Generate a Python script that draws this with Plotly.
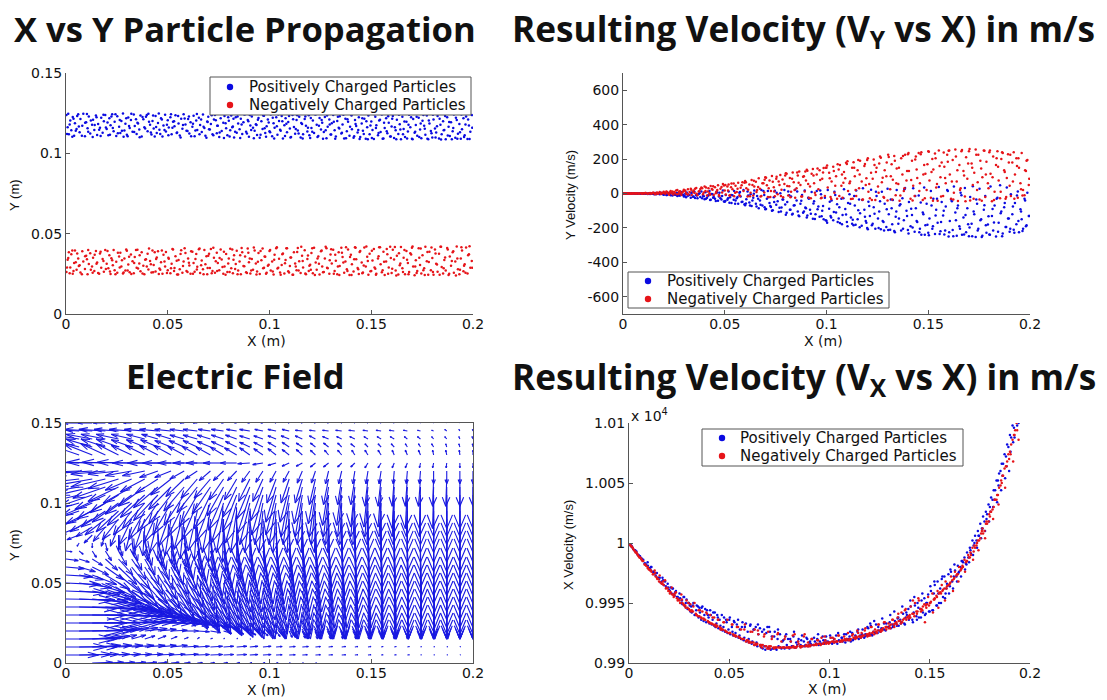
import plotly.graph_objects as go

W, H = 1107, 700
LABEL_POS = "Positively Charged Particles"
LABEL_NEG = "Negatively Charged Particles"
BLUE = "rgb(10,10,225)"
RED = "rgb(230,20,25)"
AXIS = "#555555"
FONT = "DejaVu Sans"
INK = "#111111"

# particle x positions, 0.1 mm
particle_x = [
2,8,14,21,26,33,40,44,52,60, 67,71,80,85,93,99,106,112,119,128,
133,139,147,153,158,167,173,180,186,193, 200,208,213,219,227,234,239,247,252,261,
267,272,280,287,292,299,306,313,319,327, 333,338,347,351,360,366,372,380,385,393,
401,405,413,420,425,431,440,446,452,459, 467,474,479,487,491,500,505,513,519,526,
533,538,546,553,559,566,572,578,587,592, 600,606,612,621,627,632,640,645,653,659,
667,673,680,685,694,699,707,712,720,727, 732,741,746,753,760,765,773,779,787,793,
800,807,812,820,826,834,839,846,853,859, 866,872,880,885,893,899,906,913,919,927,
933,939,946,952,960,966,973,979,986,992, 1000,1006,1013,1020,1025,1033,1039,1047,1052,1060,
1066,1073,1079,1086,1092,1100,1106,1113,1120,1126, 1133,1139,1146,1153,1160,1165,1173,1179,1186,1193,
1200,1206,1213,1219,1227,1232,1240,1246,1253,1259, 1267,1272,1280,1286,1294,1300,1306,1313,1320,1326,
1333,1340,1345,1353,1359,1367,1373,1380,1386,1393, 1400,1405,1413,1420,1426,1433,1439,1446,1453,1459,
1466,1473,1480,1486,1492,1500,1506,1513,1520,1525, 1533,1539,1546,1552,1560,1566,1573,1579,1586,1593,
1600,1606,1612,1620,1626,1633,1640,1646,1653,1659, 1666,1673,1680,1686,1692,1700,1706,1713,1719,1726,
1733,1740,1746,1752,1760,1766,1773,1780,1786,1793, 1800,1806,1813,1819,1826,1833,1840,1846,1853,1859,
1866,1873,1880,1886,1892,1900,1906,1913,1920,1926, 1933,1940,1946,1953,1959,1966,1973,1980,1987,1994,
5,11,18,31,37,48,55,63,78,94, 103,109,122,131,141,150,163,170,184,196,
204,216,223,230,243,255,264,275,283,296, 303,310,321,335,344,354,362,376,389,397,
408,417,428,436,443,456,463,471,484,496, 503,516,523,531,544,551,563,575,583,597,
604,615,624,636,643,656,664,676,690,696, 703,716,724,736,743,755,769,776,784,797,
804,817,823,831,843,856,863,876,889,896, 903,910,923,936,943,956,969,976,983,996,
1003,1016,1023,1036,1043,1055,1063,1076,1083,1096, 1103,1116,1129,1136,1143,1156,1163,1176,1189,1196,
1203,1210,1223,1236,1243,1256,1263,1276,1283,1296, 1303,1316,1323,1336,1343,1356,1363,1376,1383,1396,
1403,1416,1423,1436,1443,1456,1463,1476,1483,1496, 1503,1516,1523,1536,1543,1556,1563,1576,1583,1596,
1603,1616,1623,1636,1643,1656,1663,1676,1683,1696, 1703,1716,1723,1736,1743,1756,1763,1776,1783,1796,
1803,1816,1823,1836,1843,1856,1863,1876,1883,1896, 1903,1916,1923,1936,1943,1956,1963,1976,1983,1996,
]

# Y position, 0.1 mm
pos_y = [
1238,1162,1118,1205,1143,1226,1109,1187,1152,1243, 1131,1214,1172,1247,1106,1193,1156,1229,1124,1178,
1209,1146,1236,1114,1183,1160,1221,1128,1199,1239, 1151,1112,1218,1175,1243,1137,1196,1108,1231,1165,
1126,1202,1248,1142,1184,1115,1223,1158,1207,1134, 1241,1170,1121,1191,1149,1235,1105,1212,1163,1228,
1138,1246,1178,1117,1201,1155,1232,1127,1189,1147, 1219,1104,1173,1240,1136,1206,1161,1225,1119,1197,
1168,1237,1130,1186,1111,1216,1153,1244,1180,1141, 1213,1123,1194,1166,1234,1107,1204,1145,1222,1176,
1133,1241,1158,1110,1198,1227,1149,1182,1118,1210, 1238,1125,1171,1101,1219,1139,1190,1232,1156,1113,
1203,1144,1236,1167,1098,1225,1128,1185,1150,1216, 1120,1193,1243,1135,1208,1103,1174,1229,1159,1141,
1181,1114,1220,1097,1199,1152,1234,1126,1169,1211, 1138,1241,1106,1187,1160,1224,1116,1202,1147,1233,
1093,1175,1218,1131,1195,1155,1102,1239,1164,1122, 1207,1142,1228,1099,1183,1119,1213,1172,1136,1237,
1096,1157,1205,1126,1242,1178,1108,1220,1148,1191, 1133,1226,1094,1166,1210,1117,1188,1239,1143,1104,
1201,1159,1231,1123,1179,1092,1215,1137,1196,1110, 1244,1150,1097,1208,1170,1129,1224,1101,1185,1140,
1216,1091,1162,1235,1118,1198,1146,1089,1227,1175, 1112,1204,1133,1241,1093,1157,1219,1125,1190,1105,
1167,1233,1096,1144,1209,1120,1181,1088,1228,1152, 1102,1196,1136,1240,1163,1090,1214,1128,1177,1110,
1222,1148,1094,1203,1171,1115,1236,1087,1186,1139, 1099,1211,1155,1129,1232,1092,1178,1118,1199,1145,
1088,1225,1165,1108,1193,1137,1241,1097,1207,1122, 1183,1091,1150,1218,1112,1229,1089,1174,1135,1238,
1121,1247,1179,1103,1216,1140,1233,1167,1110,1190, 1245,1135,1205,1102,1177,1224,1147,1108,1240,1161,
1192,1116,1230,1158,1244,1125,1208,1141,1103,1218, 1106,1170,1246,1133,1212,1186,1100,1226,1154,1238,
1197,1129,1236,1105,1164,1248,1121,1210,1145,1178, 1112,1243,1159,1200,1127,1233,1098,1176,1217,1139,
1229,1107,1184,1142,1245,1118,1211,1165,1097,1195, 1150,1237,1113,1206,1172,1129,1246,1096,1188,1224,
1104,1163,1215,1135,1230,1095,1180,1242,1124,1200, 1239,1146,1094,1177,1209,1116,1236,1156,1103,1192,
1131,1221,1093,1168,1241,1141,1200,1108,1184,1233, 1099,1212,1151,1237,1124,1189,1092,1229,1160,1113,
1220,1134,1244,1101,1172,1208,1091,1143,1235,1180, 1117,1197,1090,1227,1155,1128,1240,1094,1212,1166,
1236,1107,1183,1145,1089,1219,1121,1200,1088,1173, 1096,1243,1158,1126,1209,1090,1190,1138,1231,1104,
1216,1163,1087,1240,1149,1119,1198,1092,1178,1225, 1088,1134,1228,1102,1185,1238,1153,1091,1204,1125,
1240,1098,1169,1215,1086,1144,1233,1111,1195,1087, 1157,1222,1090,1131,1242,1101,1180,1211,1089,1160,
]
neg_y = [
262,338,385,290,372,251,318,396,275,345, 303,258,390,327,280,362,247,311,378,296,
350,268,392,320,255,376,288,342,263,399, 312,285,365,249,335,398,272,325,256,358,
381,295,252,346,270,393,308,260,370,328, 253,354,288,400,315,266,384,300,248,340,
375,277,330,258,395,305,265,352,390,283, 322,250,368,296,386,272,344,254,312,401,
287,360,246,336,278,397,256,326,380,268, 345,302,251,388,318,263,374,294,403,255,
333,278,398,309,248,362,286,405,267,350, 256,381,317,272,402,339,250,295,374,262,
346,406,284,254,365,311,393,270,327,247, 385,298,358,260,407,322,252,342,276,396,
315,264,379,249,335,408,288,356,256,301, 392,271,327,246,369,410,283,344,258,305,
376,252,336,409,266,298,352,245,384,315, 273,411,328,255,362,290,397,248,342,268,
306,380,253,412,321,275,358,246,390,296, 262,345,409,284,250,371,314,400,268,332,
247,385,298,413,355,256,326,278,402,243, 368,309,264,416,340,287,249,392,320,258,
414,296,356,244,375,268,333,405,282,251, 346,415,310,260,388,243,327,372,290,418,
255,400,339,270,362,246,304,417,284,350, 248,392,318,261,378,413,295,241,335,268,
410,305,252,366,284,418,328,245,388,272, 348,244,401,312,263,375,419,292,252,336,
270,411,243,358,300,385,256,326,420,278, 248,345,395,266,310,414,252,372,288,330,
289,348,253,395,267,322,377,299,248,360, 341,398,275,256,369,312,251,388,330,280,
392,264,347,303,248,381,290,335,258,402, 271,356,249,318,399,283,365,252,338,296,
408,309,260,384,342,249,275,396,326,255, 350,284,405,267,332,246,374,298,410,262,
319,391,251,343,277,407,304,248,360,286, 375,253,412,328,268,349,293,388,244,314,
262,401,337,280,248,366,411,297,255,382, 345,270,414,246,325,392,284,358,250,306,
398,265,338,415,288,245,372,316,409,258, 352,244,295,386,270,418,330,252,364,300,
276,410,242,345,312,395,260,419,288,335, 403,250,368,296,243,382,320,416,268,355,
243,340,412,278,386,254,302,420,330,266, 394,290,245,360,416,272,325,405,250,348,
282,417,240,378,314,262,398,338,247,370, 420,296,255,350,408,272,242,386,324,414,
262,376,308,244,418,285,352,402,250,330, 391,240,345,276,415,300,256,366,422,288,
]

# Y velocity, m/s
pos_vy = [
0,0,1,0,0,-1,0,1,0,-1, 1,-1,0,-2,1,-1,2,-2,0,1,
-3,2,-1,-4,3,-2,1,-5,4,-3, -7,2,-9,4,-3,-10,5,-6,-1,-8,
-15,3,-11,8,-6,-18,-2,6,-13,-9, -24,5,-17,10,-8,-27,-3,-20,12,-13,
-33,7,-25,-11,15,-36,-4,-20,-30,9, -42,4,-28,-15,18,-48,-8,-37,12,-22,
-55,-10,15,-40,-28,-60,5,-18,-48,20, -68,-33,12,-52,-5,-72,-25,18,-60,-14,
-86,-40,20,-70,-8,-92,-30,14,-55,-78, -100,-22,16,-66,-45,-108,2,-82,-35,20,
-124,-50,12,-95,-18,-118,-70,22,-40,-105, -132,-60,-8,-112,18,-85,-128,-30,-95,8,
-146,-45,-120,15,-75,-135,-5,-100,-150,-25, -158,20,-88,-130,-40,-155,10,-110,-62,-145,
-172,-30,-125,25,-90,-165,-55,-5,-140,-175, -185,-70,18,-150,-35,-115,-188,30,-95,-160,
-200,-48,-130,22,-175,-80,-205,-15,-145,-105, -208,10,-165,-60,-195,28,-120,-210,-85,-38,
-218,-135,20,-175,-70,-215,-28,-155,32,-100, -212,-50,-190,-125,30,-222,-85,-165,-12,-205,
-240,-110,35,-185,-60,-228,-145,15,-205,-30, -235,-95,-170,38,-220,-50,-128,-238,-75,20,
-250,-160,-35,-212,40,-110,-245,-70,-190,5, -240,-140,32,-225,-85,-248,-20,-175,42,-120,
-252,-60,-205,28,-150,-245,-95,-15,-228,-180, -238,40,-130,-215,-70,-250,-25,-170,48,-105,
-232,-80,-195,35,-145,-222,-5,-120,-210,-55, -178,12,-225,-92,-150,-205,-30,-190,5,-130,
0,-1,0,1,-1,0,1,-1,0,-2, -1,2,-3,0,-2,1,-4,-1,2,-3,
-5,-9,1,-3,-11,-7,3,-12,-2,-8, -14,-22,-6,4,-19,-26,-11,2,-28,-16,
-31,-12,-38,-3,-25,-43,6,-18,-35,-46, -44,-28,-54,-8,-37,-60,-20,8,-50,-63,
-58,-12,-70,-41,-2,-76,-30,-65,14,-80, -90,-22,-72,-98,-50,5,-83,-105,-35,-64,
-112,-10,-95,-122,-68,12,-128,-42,-105,-82, -140,-25,-118,-58,-148,-92,18,-132,-72,-155,
-170,-48,-140,-108,-8,-165,-80,-178,-28,-122, -190,-60,-152,-15,-182,-98,-196,-38,-135,-170,
-208,-72,-185,-118,10,-200,-45,-160,-215,-92, -212,-35,-178,-225,-105,-145,-62,-205,25,-130,
-232,-88,-198,-15,-160,-225,-52,-120,-240,-182, -242,-70,-190,-128,-30,-235,-165,-100,-215,15,
-225,-45,-248,-155,-85,-205,-10,-238,-125,-178, -198,-248,-105,-35,-215,-155,-252,-68,-185,-132,
-240,-90,-168,-30,-222,-115,-248,-55,-195,-145, -205,-75,-228,-12,-160,-105,-218,-40,-185,-130,
]
neg_vy = [
0,0,-1,0,1,0,0,-1,1,0, -1,2,0,1,-2,2,0,3,-1,1,
3,-2,5,1,-4,6,0,8,-3,5, 10,-2,12,4,-7,14,2,-6,9,17,
20,-3,13,-9,6,22,16,-5,25,8, 28,-8,18,3,32,-10,12,26,35,-4,
40,14,-12,30,2,44,22,-8,36,10, 48,-14,28,6,55,18,-6,40,52,-10,
58,24,-16,45,8,62,-10,34,66,14, 72,30,-18,52,4,78,-12,40,68,20,
88,28,-14,60,6,94,48,-20,75,15, 102,36,-16,85,-5,70,108,22,-22,55,
118,44,-12,90,10,122,65,-25,30,105, 128,50,-18,98,12,75,132,-24,40,115,
142,60,-8,110,25,135,-28,85,148,-15, 150,35,120,-20,70,155,5,100,-30,140,
165,45,-25,125,88,172,15,60,-32,150, 182,100,-15,135,30,190,70,-35,160,50,
195,10,-28,120,85,198,-38,150,40,175, 208,65,-20,135,100,-40,212,25,170,80,
218,-10,145,55,-42,205,110,15,225,75, 228,130,-30,190,45,-15,215,90,235,60,
240,-38,165,115,20,245,75,-25,200,140, 232,35,-42,250,95,180,-15,155,60,225,
248,110,-30,195,5,255,70,-44,165,30, 252,130,-18,210,85,245,-40,175,50,120,
255,20,225,-35,145,95,250,-20,185,60, 240,115,-45,215,10,165,246,75,-28,200,
235,135,-30,90,228,45,-15,180,240,110, 205,-25,150,60,235,20,-10,130,195,50,
0,1,0,-1,0,1,0,1,-1,1, 1,3,-1,2,0,4,1,-2,3,1,
5,9,-2,7,12,3,-4,10,1,13, 17,3,-6,22,10,27,-2,15,30,6,
35,12,-7,26,42,1,20,-9,38,46, 50,18,-12,36,58,5,28,-14,48,62,
66,22,-16,50,74,8,38,-18,60,80, 92,30,-20,68,12,98,50,-15,82,104,
115,42,-22,85,20,122,62,-18,100,128, 138,55,-28,105,5,145,78,-24,122,150,
162,88,-32,130,45,170,-15,110,62,178, 188,70,-30,150,20,195,110,-36,172,88,
205,55,-38,165,125,5,215,92,-25,180, 225,100,-35,190,60,150,-12,218,30,130,
235,78,-40,198,140,15,228,110,-28,170, 242,125,-42,205,55,160,-18,238,90,185,
250,70,-35,215,135,20,245,105,-45,175, 258,150,-30,225,65,190,-42,248,110,30,
250,95,-38,205,155,10,240,125,-20,180, 225,70,-30,160,205,25,-12,135,190,85,
]

# X velocity, m/s
pos_vx = [
9999,9998,9997,9995,9994,9993,9991,9990,9989,9987, 9986,9986,9983,9982,9984,9979,9978,9980,9976,9975,
9973,9975,9971,9971,9967,9971,9965,9968,9963,9966, 9961,9963,9958,9962,9956,9960,9955,9953,9958,9950,
9949,9955,9947,9953,9945,9950,9943,9942,9948,9940, 9940,9948,9938,9946,9936,9947,9935,9945,9934,9940,
9933,9944,9932,9942,9931,9930,9940,9929,9936,9928, 9927,9938,9926,9934,9925,9936,9924,9930,9923,9934,
9922,9932,9921,9928,9920,9934,9919,9930,9918,9926, 9917,9932,9916,9928,9915,9930,9914,9924,9929,9913,
9912,9928,9911,9925,9913,9930,9911,9922,9912,9926, 9912,9920,9914,9924,9912,9918,9913,9922,9915,9920,
9912,9918,9914,9922,9913,9917,9915,9920,9914,9919, 9914,9918,9915,9921,9914,9917,9916,9920,9915,9918,
9916,9920,9915,9918,9916,9922,9916,9919,9917,9918, 9917,9921,9916,9918,9917,9923,9916,9919,9918,9921,
9918,9924,9917,9920,9919,9922,9918,9925,9920,9921, 9921,9926,9920,9923,9922,9928,9921,9924,9923,9929,
9924,9931,9923,9926,9925,9932,9925,9927,9926,9929, 9928,9933,9927,9930,9930,9934,9929,9932,9931,9935,
9933,9937,9931,9936,9934,9941,9933,9938,9940,9945, 9938,9947,9936,9942,9948,9939,9950,9938,9945,9952,
9942,9954,9941,9950,9957,9943,9960,9944,9958,9965, 9948,9968,9950,9962,9970,9955,9972,9958,9966,9974,
9964,9976,9968,9972,9977,9972,9981,9976,9980,9985, 9984,9988,9983,9992,9988,9996,9991,10002,9998,10006,
10002,10010,10006,10016,10012,10022,10018,10026,10024,10032, 10030,10038,10036,10044,10044,10052,10052,10058,10060,10066,
10066,10074,10072,10082,10080,10090,10088,10098,10096,10106, 10106,10112,10114,10120,10122,10128,10132,10138,10140,10146,
9999,9998,9996,9994,9993,9990,9989,9987,9983,9981, 9979,9980,9976,9975,9971,9970,9968,9969,9964,9963,
9960,9962,9957,9959,9955,9954,9952,9955,9950,9950, 9948,9947,9950,9944,9947,9942,9946,9940,9944,9938,
9940,9936,9942,9933,9938,9931,9940,9930,9936,9928, 9938,9926,9935,9925,9936,9923,9930,9921,9933,9920,
9931,9918,9928,9917,9932,9915,9926,9914,9930,9912, 9926,9912,9922,9911,9928,9913,9919,9912,9924,9913,
9920,9914,9926,9913,9918,9915,9923,9914,9920,9915, 9918,9915,9921,9916,9924,9916,9919,9917,9922,9917,
9923,9917,9920,9918,9925,9918,9921,9919,9924,9920, 9926,9919,9923,9921,9928,9921,9924,9922,9930,9923,
9933,9924,9935,9925,9930,9927,9937,9928,9933,9930, 9940,9930,9943,9931,9938,9933,9947,9932,9942,9936,
9952,9934,9955,9936,9946,9938,9958,9940,9950,9943, 9964,9944,9968,9948,9958,9950,9972,9954,9962,9958,
9978,9962,9982,9968,9975,9972,9985,9978,9982,9984, 9994,9990,10000,9996,10006,10004,10012,10010,10020,10018,
10026,10030,10036,10034,10048,10044,10056,10054,10064,10060, 10076,10084,10088,10098,10100,10112,10114,10126,10128,10140,
]
neg_vx = [
9999,9998,9997,9995,9994,9992,9991,9990,9988,9987, 9985,9985,9982,9981,9980,9978,9977,9976,9974,9977,
9972,9971,9970,9973,9967,9966,9965,9969,9963,9962, 9960,9959,9963,9957,9956,9959,9954,9953,9952,9957,
9950,9949,9948,9952,9946,9945,9949,9944,9943,9950, 9941,9940,9944,9939,9938,9943,9937,9936,9942,9935,
9934,9940,9933,9932,9938,9932,9931,9936,9930,9929, 9928,9934,9927,9926,9936,9925,9925,9932,9924,9923,
9922,9930,9922,9921,9928,9920,9920,9932,9919,9919, 9918,9926,9917,9917,9928,9916,9916,9924,9915,9915,
9915,9922,9914,9914,9926,9914,9914,9920,9913,9913, 9913,9924,9913,9913,9918,9913,9913,9922,9913,9913,
9913,9918,9913,9914,9924,9913,9914,9916,9914,9914, 9914,9922,9914,9915,9917,9915,9915,9920,9915,9915,
9916,9919,9916,9916,9921,9916,9917,9919,9917,9917, 9917,9921,9918,9918,9920,9918,9918,9923,9918,9919,
9919,9922,9919,9920,9925,9920,9920,9923,9921,9921, 9922,9927,9922,9922,9925,9923,9923,9929,9924,9924,
9925,9930,9925,9926,9928,9926,9927,9932,9927,9928, 9929,9934,9930,9930,9933,9931,9932,9936,9932,9933,
9934,9938,9935,9935,9942,9936,9937,9945,9938,9939, 9940,9947,9941,9941,9950,9943,9943,9952,9945,9945,
9947,9949,9948,9949,9955,9950,9951,9958,9953,9954, 9956,9960,9958,9959,9965,9961,9962,9968,9964,9965,
9966,9972,9969,9970,9976,9973,9974,9980,9977,9979, 9980,9986,9984,9985,9990,9988,9990,9996,9993,9996,
9998,10002,10002,10004,10010,10008,10010,10016,10016,10018, 10022,10026,10028,10030,10036,10036,10040,10046,10048,10050,
10056,10062,10064,10068,10074,10076,10082,10086,10090,10094, 10100,10104,10108,10112,10116,10122,10126,10130,10136,10140,
9999,9997,9996,9993,9992,9989,9988,9986,9982,9979, 9978,9977,9974,9975,9970,9968,9966,9968,9962,9960,
9958,9957,9955,9958,9952,9950,9953,9948,9946,9950, 9944,9943,9947,9940,9939,9944,9937,9936,9941,9934,
9933,9938,9931,9930,9936,9928,9928,9934,9926,9925, 9925,9932,9923,9923,9930,9921,9920,9928,9918,9917,
9917,9926,9915,9915,9927,9914,9913,9924,9912,9912, 9912,9922,9912,9913,9925,9913,9913,9920,9913,9913,
9913,9923,9913,9913,9918,9913,9914,9924,9914,9914, 9914,9920,9915,9915,9919,9915,9916,9922,9916,9916,
9917,9921,9917,9918,9923,9918,9918,9920,9919,9919, 9919,9924,9920,9921,9925,9921,9922,9927,9922,9923,
9923,9930,9924,9925,9932,9926,9927,9934,9928,9929, 9929,9936,9930,9932,9941,9933,9934,9944,9936,9937,
9938,9952,9939,9941,9954,9943,9944,9934,9946,9948, 9950,9942,9953,9955,9946,9958,9960,9952,9962,9965,
9967,9960,9971,9974,9968,9978,9981,9976,9985,9988, 9992,9986,9998,10000,9994,10008,10012,10004,10018,10024,
10026,10020,10036,10040,10032,10052,10056,10046,10064,10070, 10074,10068,10090,10094,10086,10108,10112,10104,10126,10132,
]

# electric field: grid and arrow components (mm of plotted length), rows from y = 0.15 down to 0
field_x = [i / 31 * 0.2 for i in range(32)]
field_y = [0.15 - i * 0.005 for i in range(31)]
field_u = [
[-9,-8,-7,-6,-5,-4,-3,-3,-2,-2,-2,-1,-1,-1,-1,-1,-.5,-.5,-.5,-.5,-.5,-.3,-.3,-.3,-.3,-.3,-.2,-.2,-.2,-.1,-.1,0],
[-16,-15,-14,-13,-12,-11,-10,-9,-8,-7,-7,-6,-6,-5,-5,-4,-4,-3.5,-3.5,-3,-3,-3,-3,-2.5,-2.5,-2.5,-2,-1.5,-1,-1,-.5,-.3],
[-16,-15,-13,-12,-11,-10,-9,-8,-7.5,-7,-7,-6.5,-6,-5.5,-5,-4.5,-4,-4,-3.5,-3,-3,-2.5,-2.5,-2,-2,-2,-1.5,-1.5,-1,-1,-.5,-.5],
[-17,-15,-13,-12,-11,-10,-9,-8.5,-8,-7.5,-7,-6.5,-6,-5.5,-5,-4.5,-4,-3.5,-3,-2.5,-2.5,-2,-2,-1.5,-1.5,-1.5,-1,-1,-1,-.5,-.5,-.3],
[-18,-16,-14,-12,-11,-10,-9.5,-9,-8.5,-8,-7.5,-7,-6.5,-6,-5,-4.5,-4,-3.5,-3,-2.5,-2,-2,-1.5,-1.5,-1.5,-1,-1,-1,-.5,-.5,-.3,0],
[-24,-22,-20,-19,-18,-17,-16,-15,-14,-13,-12,-12,-10,-8,-6,-5,-4,-3.5,-3,-2.5,-2.5,-2,-2,-1.5,-1.5,-1,-1,-.5,-.5,-.3,0,0],
[-22,-20,-19,-17,-15,-13,-11,-9,-8,-7,-6,-5.5,-5,-4.5,-4,-3.5,-3,-3,-2.5,-2,-1.5,-1.5,-1,-1,-1,-.5,-.5,-.5,0,0,0,0],
[-20,-20,-18,-17,-15,-13,-12,-11,-10,-9,-8,-8,-7,-6,-5.5,-5,-4.5,-4,-3.5,-3,-2.5,-2,-2,-1.5,-1.5,-1,-1,-1,-.5,-.5,0,0],
[-18,-18,-17,-16,-15,-14,-13,-12,-11,-10,-10,-9,-8,-7,-6.5,-6,-5,-4.5,-4,-3.5,-3,-2.5,-2,-2,-1.5,-1,-1,-.5,-.5,0,0,0],
[-18,-17,-16,-15,-14,-13,-12,-12,-11,-10,-9,-8,-7.5,-7,-6,-5.5,-5,-4,-3.5,-3,-2.5,-2,-2,-1.5,-1,-1,-.5,-.5,0,0,0,0],
[-17,-16,-15,-14,-13,-12,-11,-10,-9,-8,-7.5,-7,-6,-5.5,-5,-4,-3.5,-3,-2.5,-2,-1.5,-1,-1,-.5,-.5,-.5,0,0,0,0,0,0],
[-15,-14,-13,-12,-11,-9,-8,-7,-6,-5,-4.5,-4,-3.5,-3,-2.5,-2,-1.5,-1,-.5,-.5,-.5,0,0,0,0,0,0,0,0,0,0,0],
[-14,-12,-11,-10,-8,-6,-5,-4,-3,-2,-1.5,-1,-.5,0,0,.5,.5,.5,.5,.5,.5,.5,.5,.5,0,0,0,0,0,0,0,0],
[-12,-10,-8,-6,-4,-3,-1,0,.5,1,1,1,1,1,1,1,1,.5,.5,.5,.5,.5,.5,.5,0,0,0,0,0,0,0,0],
[-8,-6,-4,-2,0,1,1.5,2,2,2.5,2.5,2.5,2.5,2,2,2,1.5,1.5,1.5,1,1,.5,.5,.5,.5,.5,0,0,0,0,0,0],
[-2,-1,0,1,2,3,3.5,4,4,4.5,4.5,4.5,4,4,3.5,3,2.5,2.5,2,2,1.5,1,1,1,.5,.5,.5,0,0,0,0,0],
[3,2,2,3,4,5,5,5.5,6,6,6,6,5.5,5,4.5,4,3.5,3,2.5,2,1.5,1.5,1,1,.5,.5,.5,.5,0,0,0,0],
[6,5,5,6,7,7,7,7.5,8,8,7.5,7,6.5,6,5.5,5,4,3.5,3,2.5,2,1.5,1.5,1,1,.5,.5,.5,0,0,0,0],
[9,8,8,9,9,9,9,9,9,9,8.5,8,7.5,7,6,5.5,4.5,4,3.5,3,2.5,2,1.5,1,1,1,.5,.5,.5,0,0,0],
[13,12,12,12,12,11,11,10.5,10,10,9.5,9,8,7.5,6.5,6,5,4.5,4,3,2.5,2,1.5,1.5,1,1,.5,.5,.5,0,0,0],
[17,16,16,15,14,13,13,12,11.5,11,10,9.5,8.5,8,7,6,5.5,5,4,3.5,3,2.5,2,1.5,1,1,.5,.5,.5,0,0,0],
[20,20,19,18,17,15,14,13,12,11.5,11,10,9,8,7,6.5,5.5,5,4,3.5,3,2.5,2,1.5,1,1,.5,.5,.5,0,0,0],
[24,24,23,21,19,17,15,14,13,12,11,10,9,8,7,6,5,4.5,4,3,2.5,2,2,1.5,1,1,.5,.5,.5,0,0,0],
[28,28,27,25,22,20,17,15,13,12,10,9,8,7,6,5,4.5,4,3,2.5,2,2,1.5,1,1,.5,.5,.5,0,0,0,0],
[30,30,30,28,26,24,21,18,15,13,11,9,7.5,6,5,4.5,4,3,2.5,2,1.5,1.5,1,1,.5,.5,.5,0,0,0,0,0],
[30,30,28,26,24,22,20,17,15,13,11,9,7.5,6,5,4.5,4,3.5,3,2.5,2,1.5,1.5,1,1,1,.5,.5,.5,.5,0,0],
[28,26,22,18,15,13,11,9,8,7,6,5,4,3.5,3,2.5,2,1.5,1.5,1,1,.5,.5,.5,.5,0,0,0,0,0,0,0],
[24,20,15,12,9,7,5,4,3,2,1,1,.5,.5,.5,0,0,0,0,0,0,0,0,0,0,0,0,0,0,0,0,0],
[20,20,14,13,12,11,10,9,8,7,6,6,5,5,4,4,3,3,3,2.5,2,2,1.5,1.5,1,1,1,.5,.5,.5,.3,0],
[16,16,13,12,11,10,9,8,7,7,6,6,5,5,4,4,3,3,2.5,2.5,2,2,1.5,1.5,1,1,1,.5,.5,.5,.3,0],
[0,0,10,9,8,7,6,5,4,3,2.5,2,2,1.5,1,1,1,.5,.5,.5,0,0,0,0,0,0,0,0,0,0,0,0],
]
field_v = [
[0,0,0,0,0,0,0,0,0,0,0,0,0,0,0,0,0,0,0,0,0,0,0,0,0,0,0,0,0,0,0,0],
[1,1,1,1,1,1,1,1,1,1,1,1,1,1,1,1,1,1,.5,.5,.5,.5,.5,.5,.5,.5,.5,.5,.5,1,1,1],
[3,3,3,3,3,3,3,3,3,2.5,2.5,2.5,2.5,2.5,2,2,2,2,2,2,1.5,1.5,1.5,1.5,1.5,1.5,1.5,1.5,1.5,1.5,1.5,1.5],
[5,5,5,5,5,4.5,4.5,4.5,4,4,4,3.5,3.5,3.5,3,3,3,3,2.5,2.5,2.5,2.5,2,2,2,2,2,2,2,2,2,2],
[7,7,7,7,7,6,6,6,6,5.5,5.5,5,5,4.5,4.5,4,4,3.5,3.5,3,3,3,3,3,3,3,3,3,3,3,3,3],
[1,.5,.5,.5,.5,.5,0,0,0,0,0,0,0,0,-.5,-1,-1.5,-2,-2,-2.5,-2.5,-2.5,-2.5,-3,-3,-3,-3,-3,-3,-3,-3,-3],
[-.5,-1,-1.5,-2,-2,-3,-3,-4,-4,-5,-5,-6,-6,-6,-7,-7,-7,-7,-7.5,-7.5,-8,-8,-8,-8,-8,-8,-8,-8,-8,-8,-8,-8],
[-2,-3,-4,-5,-6,-7,-8,-9,-10,-11,-12,-12,-13,-13,-14,-14,-15,-15,-15,-16,-16,-16,-16,-17,-17,-17,-17,-17,-17,-17,-17,-17],
[-3,-4,-5,-7,-9,-10,-12,-13,-14,-15,-16,-17,-18,-19,-20,-21,-22,-22,-23,-23,-24,-24,-25,-25,-25,-26,-26,-26,-26,-26,-26,-26],
[-4,-5,-7,-9,-11,-12,-14,-16,-18,-19,-20,-21,-22,-23,-24,-25,-25,-26,-26,-26,-26,-26,-26,-26,-26,-26,-26,-26,-26,-26,-26,-26],
[-5,-6,-8,-10,-12,-14,-16,-18,-20,-21,-23,-24,-25,-25,-26,-26,-26,-26,-26,-26,-26,-26,-26,-26,-26,-26,-26,-26,-26,-26,-26,-26],
[-5,-6,-8,-10,-13,-15,-18,-20,-22,-24,-25,-26,-26,-26,-26,-26,-26,-26,-26,-26,-26,-26,-26,-26,-26,-26,-26,-26,-26,-26,-26,-26],
[-5,-6,-8,-10,-13,-16,-19,-21,-23,-25,-26,-27,-27,-27,-27,-27,-27,-27,-27,-27,-27,-27,-27,-27,-27,-27,-27,-27,-27,-27,-27,-27],
[-4,-5,-6,-9,-12,-15,-18,-21,-23,-25,-27,-28,-28,-28,-28,-28,-28,-28,-28,-28,-28,-28,-28,-28,-28,-28,-28,-28,-28,-28,-28,-28],
[-2,-3,-5,-7,-10,-13,-16,-19,-22,-24,-26,-27,-28,-28,-28,-28,-28,-28,-28,-28,-28,-28,-28,-28,-28,-28,-28,-28,-28,-28,-28,-28],
[-1,-2,-3,-5,-8,-11,-14,-17,-20,-23,-25,-27,-28,-28,-28,-28,-28,-28,-28,-28,-28,-28,-28,-28,-28,-28,-28,-28,-28,-28,-28,-28],
[-.5,-2,-4,-6,-9,-12,-15,-18,-21,-24,-26,-28,-28,-28,-28,-28,-28,-28,-28,-28,-28,-28,-28,-28,-28,-28,-28,-28,-28,-28,-28,-28],
[-1,-2,-4,-7,-10,-13,-16,-19,-22,-24,-26,-28,-28,-28,-28,-28,-28,-28,-28,-28,-28,-28,-28,-28,-28,-28,-28,-28,-28,-28,-28,-28],
[-1,-3,-5,-8,-11,-14,-17,-20,-23,-25,-27,-28,-28,-28,-28,-28,-28,-28,-28,-28,-28,-28,-28,-28,-28,-28,-28,-28,-28,-28,-28,-28],
[-1,-3,-6,-9,-12,-15,-18,-21,-23,-25,-27,-28,-28,-28,-28,-28,-28,-28,-28,-28,-28,-28,-28,-28,-28,-28,-28,-28,-28,-28,-28,-28],
[-1,-3,-6,-9,-12,-15,-18,-21,-23,-25,-27,-28,-28,-28,-28,-28,-28,-28,-28,-28,-28,-28,-28,-28,-28,-28,-28,-28,-28,-28,-28,-28],
[-1,-2,-5,-8,-11,-14,-17,-20,-22,-24,-26,-27,-27,-27,-27,-27,-27,-27,-27,-27,-27,-27,-27,-27,-27,-27,-27,-27,-27,-27,-27,-27],
[-.5,-1.5,-3,-6,-8,-10,-12,-14,-16,-18,-20,-22,-23,-24,-25,-25,-25,-25,-25,-25,-25,-25,-25,-25,-25,-25,-25,-25,-25,-25,-25,-25],
[0,-1,-2,-3,-3,-4,-5,-7,-9,-11,-13,-15,-17,-18,-19,-20,-20,-20,-20,-20,-20,-20,-20,-20,-20,-20,-20,-20,-20,-20,-20,-20],
[0,0,-.5,-1,-1,-1.5,-2,-3,-4,-5,-7,-8,-10,-11,-12,-13,-14,-14,-15,-15,-15,-15,-15,-15,-15,-15,-15,-15,-15,-15,-15,-15],
[0,0,.5,.5,1,1,.5,0,-.5,-1,-2,-3,-4,-5,-6,-7,-8,-9,-9,-10,-10,-10,-10,-10,-10,-10,-10,-10,-10,-10,-10,-10],
[0,.5,1,1.5,2,2,1.5,1,.5,0,-.5,-1,-1.5,-2,-2.5,-3,-3.5,-4,-4.5,-5,-5,-5,-5,-5,-5,-5,-5,-5,-5,-5,-5,-5],
[0,.5,1.5,2,2.5,2.5,2,2,1.5,1,1,.5,.5,.5,0,0,0,0,0,0,0,0,0,0,0,0,0,0,0,0,0,0],
[0,.5,1,1,1,1,1,1,1,.5,.5,.5,.5,.5,.5,.5,.3,.3,.3,.3,.3,.3,.3,.3,.3,.3,.3,.3,.3,.3,.3,0],
[0,.5,.5,.5,.5,.5,.5,.5,.5,.5,.3,.3,.3,.3,.3,.3,.2,.2,.2,.2,.2,.2,.2,.2,.2,.2,.2,.2,.2,.2,.2,0],
[0,0,.5,.5,.5,.5,.5,.5,.5,.5,.3,.3,.3,.3,.3,.3,.2,.2,.2,.2,0,0,0,0,0,0,0,0,0,0,0,0],
]

x_ticks = [0, 0.05, 0.1, 0.15, 0.2]
x_tick_text = ["0", "0.05", "0.1", "0.15", "0.2"]
y_ticks_pos = [0, 0.05, 0.1, 0.15]
y_tick_text_pos = ["0", "0.05", "0.1", "0.15"]
vy_ticks = [-600, -400, -200, 0, 200, 400, 600]
vx_ticks = [9900, 9950, 10000, 10050, 10100]
vx_tick_text = ["0.99", "0.995", "1", "1.005", "1.01"]

X_M = [v / 10000 for v in particle_x]
POS_Y_M = [v / 10000 for v in pos_y]
NEG_Y_M = [v / 10000 for v in neg_y]

# arrow shafts and heads, in the manner of MATLAB quiver
ALPHA, BETA = 0.33, 0.33
qx, qy = [], []
for y0, ru, rv in zip(field_y, field_u, field_v):
    for x0, mu, mv in zip(field_x, ru, rv):
        u, v = mu / 1000, mv / 1000
        if u == 0 and v == 0:
            continue
        tx, ty = x0 + u, y0 + v
        qx += [x0, tx, None, tx - ALPHA * (u + BETA * v), tx, tx - ALPHA * (u - BETA * v), None]
        qy += [y0, ty, None, ty - ALPHA * (v - BETA * u), ty, ty - ALPHA * (v + BETA * u), None]

fig = go.Figure()


def dom_x(a, b):
    return [a / W, b / W]


def dom_y(a, b):
    return [1 - b / H, 1 - a / H]


def scatter(xa, ya, xs, ys, color, name):
    fig.add_trace(go.Scatter(x=xs, y=ys, mode="markers", xaxis=xa, yaxis=ya, showlegend=False, name=name,
                             hoverinfo="skip", marker=dict(size=2.5, color=color, line=dict(width=0))))


scatter("x", "y", X_M, POS_Y_M, BLUE, LABEL_POS)
scatter("x", "y", X_M, NEG_Y_M, RED, LABEL_NEG)
scatter("x2", "y2", X_M, pos_vy, BLUE, LABEL_POS)
scatter("x2", "y2", X_M, neg_vy, RED, LABEL_NEG)
scatter("x4", "y4", X_M, pos_vx, BLUE, LABEL_POS)
scatter("x4", "y4", X_M, neg_vx, RED, LABEL_NEG)
fig.add_trace(go.Scatter(x=qx, y=qy, mode="lines", xaxis="x3", yaxis="y3", showlegend=False,
                         hoverinfo="skip", line=dict(color="rgb(25,25,225)", width=1.1)))

common = dict(showgrid=False, zeroline=False, ticks="inside", ticklen=4, tickcolor=AXIS, automargin=False,
              showline=True, linecolor=AXIS, linewidth=1, tickfont=dict(family=FONT, size=14, color=INK))


def xaxis(dom, anchor, **kw):
    return dict(common, domain=dom, anchor=anchor, range=[0, 0.2], tickmode="array", tickvals=x_ticks,
                ticktext=x_tick_text, ticklabelstandoff=-3, **kw)


def yaxis(dom, anchor, rng, vals, text, **kw):
    return dict(common, domain=dom, anchor=anchor, range=rng, tickmode="array", tickvals=vals, ticktext=text, **kw)


def title(text, cx, cy, size=34.6):
    return dict(text=text, x=cx / W, y=1 - cy / H, xref="paper", yref="paper", showarrow=False,
                xanchor="center", yanchor="middle", font=dict(family="Open Sans", size=size, color=INK))


def x_label(cx, cy):
    return dict(text="X (m)", x=cx / W, y=1 - cy / H, xref="paper", yref="paper", showarrow=False,
                xanchor="center", yanchor="middle", font=dict(family=FONT, size=14, color=INK))


def y_label(text, cx, cy):
    return dict(text=text, x=cx / W, y=1 - cy / H, xref="paper", yref="paper", showarrow=False, textangle=-90,
                xanchor="center", yanchor="middle", font=dict(family="Liberation Sans", size=13, color=INK))


shapes, legend_notes = [], []


def legend_box(x0, y0, x1, y1, marker_x, text_x, row1, row2):
    shapes.append(dict(type="rect", xref="paper", yref="paper", layer="above", x0=x0 / W, x1=x1 / W,
                       y0=1 - y1 / H, y1=1 - y0 / H, fillcolor="white", line=dict(color=AXIS, width=1)))
    for row, color, label in ((row1, BLUE, LABEL_POS), (row2, RED, LABEL_NEG)):
        shapes.append(dict(type="circle", xref="paper", yref="paper", layer="above",
                           x0=(marker_x - 3.2) / W, x1=(marker_x + 3.2) / W,
                           y0=1 - (row + 3.2) / H, y1=1 - (row - 3.2) / H, fillcolor=color, line=dict(width=0)))
        legend_notes.append(dict(text=label, x=text_x / W, y=1 - row / H, xref="paper", yref="paper", showarrow=False,
                                 xanchor="left", yanchor="middle", font=dict(family=FONT, size=15, color=INK)))


legend_box(210, 77, 471, 115, 230, 247, 87, 105)
legend_box(628, 272, 889, 308, 648, 665, 281, 299)
legend_box(702, 429, 963, 466, 722, 738, 438, 456)

fig.update_layout(
    width=W, height=H, margin=dict(l=0, r=0, t=0, b=0), paper_bgcolor="white", plot_bgcolor="white",
    xaxis=xaxis(dom_x(66, 473), "y"),
    yaxis=yaxis(dom_y(73, 314), "x", [0, 0.15], y_ticks_pos, y_tick_text_pos),
    xaxis2=xaxis(dom_x(623, 1030), "y2"),
    yaxis2=yaxis(dom_y(73, 314), "x2", [-700, 700], vy_ticks, [str(v) for v in vy_ticks]),
    xaxis3=xaxis(dom_x(66, 473), "y3", mirror=True),
    yaxis3=yaxis(dom_y(423, 663), "x3", [0, 0.15], y_ticks_pos, y_tick_text_pos, mirror=True),
    xaxis4=xaxis(dom_x(629, 1030), "y4"),
    yaxis4=yaxis(dom_y(423, 663), "x4", [9900, 10100], vx_ticks, vx_tick_text),
    shapes=shapes,
    annotations=[
        title("<b>X vs Y Particle Propagation</b>", 245, 28),
        title("<b>Resulting Velocity (V<sub>Y</sub> vs X) in m/s</b>", 803, 30, 35.2),
        title("<b>Electric Field</b>", 235, 375),
        title("<b>Resulting Velocity (V<sub>X</sub> vs X) in m/s</b>", 804, 378, 35.2),
        x_label(266, 341), x_label(823, 341), x_label(266, 690), x_label(827, 689),
        y_label("Y (m)", 14, 195), y_label("Y Velocity (m/s)", 570, 195),
        y_label("Y (m)", 14, 545), y_label("X Velocity (m/s)", 568, 545),
        dict(text="x 10<sup>4</sup>", x=629 / W, y=1 - 415 / H, xref="paper", yref="paper", showarrow=False,
             xanchor="left", yanchor="middle", font=dict(family=FONT, size=14, color=INK)),
    ] + legend_notes,
)

fig.write_html("out.html", config={"displayModeBar": False}, post_script="document.body.style.margin='0';")
